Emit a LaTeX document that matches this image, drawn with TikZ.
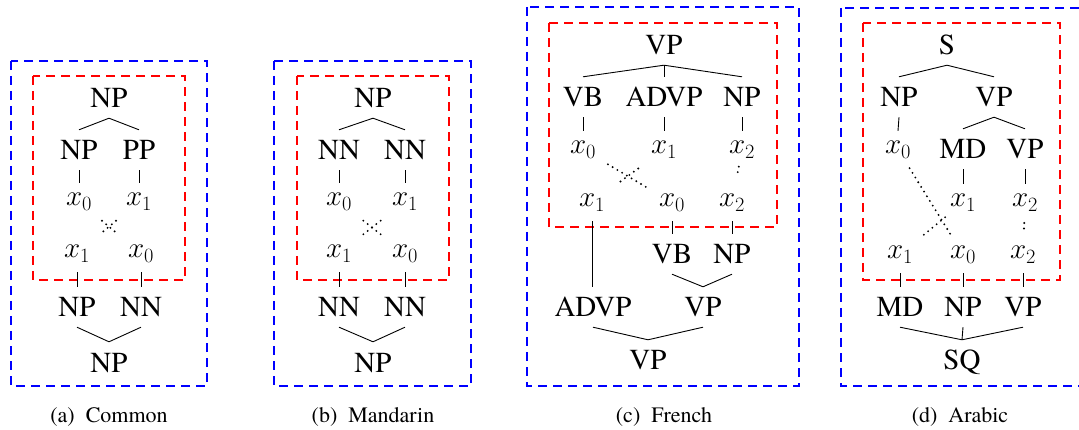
\RequirePackage{fix-cm}
\documentclass[tikz,border=0pt]{standalone}
\usepackage{fontspec}
\setmainfont{TeX Gyre Termes}
\usetikzlibrary{calc}
\tikzset{
  lab/.style={font=\rmfamily\fontsize{29}{34}\selectfont, text height=20pt, text depth=0pt, inner ysep=10pt, inner xsep=0pt, anchor=base},
  var/.style={font=\fontsize{29}{34}\selectfont, text height=13pt, text depth=4pt, inner ysep=10pt, inner xsep=0pt, anchor=base},
  br/.style={line width=0.9pt},
  dotl/.style={line width=2.1pt, line cap=round, dash pattern=on 0pt off 5.5pt},
  bluebox/.style={draw=blue, line width=2pt, dash pattern=on 9pt off 6pt},
  redbox/.style={draw=red, line width=2pt, dash pattern=on 9pt off 6pt},
  capt/.style={font=\rmfamily\fontsize{22}{26}\selectfont, anchor=base},
}
\begin{document}
\begin{tikzpicture}[x=1pt, y=-1pt]
\useasboundingbox (0,0) rectangle (1079,430);
% ---------- (a) Common ----------
\draw[bluebox] (11,61) rectangle (207,386);
\draw[redbox] (33,76) rectangle (185,280);
\node[lab] (a0) at (109,108) {NP};
\node[lab] (a1) at (79,160) {NP};
\node[lab] (a2) at (139,160) {PP};
\node[var] (a3) at (79,206) {$x_0$};
\node[var] (a4) at (139,206) {$x_1$};
\node[var] (a5) at (77,258) {$x_1$};
\node[var] (a6) at (141,258) {$x_0$};
\node[lab] (a7) at (77,317) {NP};
\node[lab] (a8) at (141,317) {NN};
\node[lab] (a9) at (109,372) {NP};
\draw[br] (a0.south) -- (a1.north);
\draw[br] (a0.south) -- (a2.north);
\draw[br] (a1.south) -- (a3.north);
\draw[br] (a2.south) -- (a4.north);
\draw[br] (a5.south) -- (a7.north);
\draw[br] (a6.south) -- (a8.north);
\draw[br] (a7.south) -- (a9.north);
\draw[br] (a8.south) -- (a9.north);
\draw[dotl, shorten <=30pt, shorten >=29pt] (a3.center) -- (a6.center);
\draw[dotl, shorten <=30pt, shorten >=29pt] (a4.center) -- (a5.center);
\node[capt] (ca) at (109,422) {(a)\hspace{11pt}Common};
% ---------- (b) Mandarin ----------
\draw[bluebox] (274,61) rectangle (471,386);
\draw[redbox] (297,76) rectangle (449,280);
\node[lab] (b0) at (373,108) {NP};
\node[lab] (b1) at (339,160) {NN};
\node[lab] (b2) at (405,160) {NN};
\node[var] (b3) at (339,206) {$x_0$};
\node[var] (b4) at (405,206) {$x_1$};
\node[var] (b5) at (339,258) {$x_1$};
\node[var] (b6) at (405,258) {$x_0$};
\node[lab] (b7) at (339,317) {NN};
\node[lab] (b8) at (405,317) {NN};
\node[lab] (b9) at (373,372) {NP};
\draw[br] (b0.south) -- (b1.north);
\draw[br] (b0.south) -- (b2.north);
\draw[br] (b1.south) -- (b3.north);
\draw[br] (b2.south) -- (b4.north);
\draw[br] (b5.south) -- (b7.north);
\draw[br] (b6.south) -- (b8.north);
\draw[br] (b7.south) -- (b9.north);
\draw[br] (b8.south) -- (b9.north);
\draw[dotl, shorten <=31pt, shorten >=31pt] (b3.center) -- (b6.center);
\draw[dotl, shorten <=31pt, shorten >=31pt] (b4.center) -- (b5.center);
\node[capt] (cb) at (373,422) {(b)\hspace{11pt}Mandarin};
% ---------- (c) French ----------
\draw[bluebox] (527,7) rectangle (799,386);
\draw[redbox] (549,23) rectangle (777,227);
\node[lab] (c0) at (664,55) {VP};
\node[lab] (c1) at (583,107) {VB};
\node[lab] (c2) at (664,107) {ADVP};
\node[lab] (c3) at (742,107) {NP};
\node[var] (c4) at (583,154) {$x_0$};
\node[var] (c5) at (664,154) {$x_1$};
\node[var] (c6) at (742,154) {$x_2$};
\node[var] (c7) at (592,207) {$x_1$};
\node[var] (c8) at (672,207) {$x_0$};
\node[var] (c9) at (732,207) {$x_2$};
\node[lab] (c10) at (672,264) {VB};
\node[lab] (c11) at (732,264) {NP};
\node[lab] (c12) at (593,317) {ADVP};
\node[lab] (c13) at (703,317) {VP};
\node[lab] (c14) at (648,370) {VP};
\draw[br] (c0.south) -- (c1.north);
\draw[br] (c0.south) -- (c2.north);
\draw[br] (c0.south) -- (c3.north);
\draw[br] (c1.south) -- (c4.north);
\draw[br] (c2.south) -- (c5.north);
\draw[br] (c3.south) -- (c6.north);
\draw[br] (c7.south) -- (c7.south |- c12.north);
\draw[br] (c8.south) -- (c10.north);
\draw[br] (c9.south) -- (c11.north);
\draw[br] (c10.south) -- (c13.north);
\draw[br] (c11.south) -- (c13.north);
\draw[br] (c12.south) -- (c14.north);
\draw[br] (c13.south) -- (c14.north);
\draw[dotl, shorten <=29pt, shorten >=28pt] (c4.center) -- (c8.center);
\draw[dotl, shorten <=32pt, shorten >=34pt] (c5.center) -- (c7.center);
\draw[dotl, shorten <=17.5pt, shorten >=28.5pt] (c6.center) -- (c9.center);
\node[capt] (cc) at (664,422) {(c)\hspace{11pt}French};
% ---------- (d) Arabic ----------
\draw[bluebox] (841,8) rectangle (1092,386);
\draw[redbox] (863,23) rectangle (1060,280);
\node[lab] (d0) at (947,55) {S};
\node[lab] (d1) at (899,107) {NP};
\node[lab] (d2) at (994,107) {VP};
\node[var] (d3) at (898,154) {$x_0$};
\node[lab] (d4) at (963,159) {MD};
\node[lab] (d5) at (1025,159) {VP};
\node[var] (d6) at (963,207) {$x_1$};
\node[var] (d7) at (1025,207) {$x_2$};
\node[var] (d8) at (900,259) {$x_1$};
\node[var] (d9) at (963,259) {$x_0$};
\node[var] (d10) at (1023,259) {$x_2$};
\node[lab] (d11) at (900,317) {MD};
\node[lab] (d12) at (963,317) {NP};
\node[lab] (d13) at (1023,317) {VP};
\node[lab] (d14) at (962,370) {SQ};
\draw[br] (d0.south) -- (d1.north);
\draw[br] (d0.south) -- (d2.north);
\draw[br] (d1.south) -- (d3.north);
\draw[br] (d2.south) -- (d4.north);
\draw[br] (d2.south) -- (d5.north);
\draw[br] (d4.south) -- (d6.north);
\draw[br] (d5.south) -- (d7.north);
\draw[br] (d8.south) -- (d11.north);
\draw[br] (d9.south) -- (d12.north);
\draw[br] (d10.south) -- (d13.north);
\draw[br] (d11.south) -- (d14.north);
\draw[br] (d12.south) -- (d14.north);
\draw[br] (d13.south) -- (d14.north);
\draw[dotl, shorten <=22pt, shorten >=24pt] (d3.center) -- (d9.center);
\draw[dotl, shorten <=31pt, shorten >=23pt] (d8.center) -- (d6.center);
\draw[dotl, shorten <=20.5pt, shorten >=26pt] (d7.center) -- (d10.center);
\node[capt] (cd) at (960,422) {(d)\hspace{11pt}Arabic};
\end{tikzpicture}
\end{document}
